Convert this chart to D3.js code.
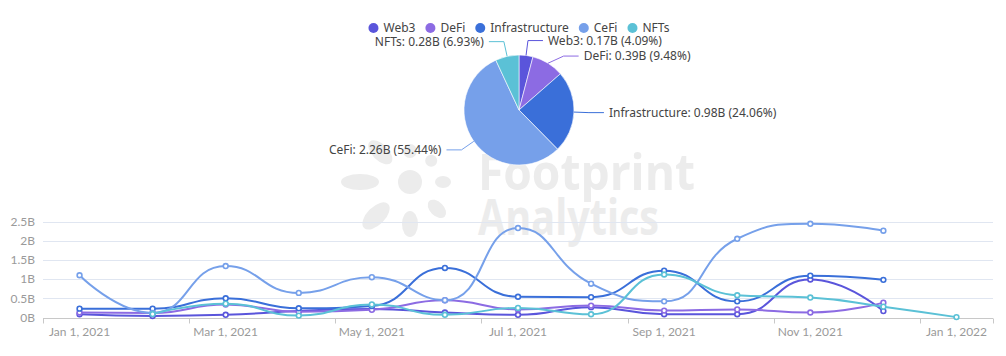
<!DOCTYPE html>
<html><head><meta charset="utf-8">
<script src="https://cdn.jsdelivr.net/npm/d3@7"></script>
<style>html,body{margin:0;padding:0;background:#fff;} svg{display:block}</style>
</head><body>
<svg id="chart" width="1006" height="356"></svg>
<script>
// ---------- data ----------
const months = ["2021-01-01","2021-02-01","2021-03-01","2021-04-01","2021-05-01","2021-06-01","2021-07-01",
                "2021-08-01","2021-09-01","2021-10-01","2021-11-01","2021-12-01","2022-01-01"];
const seriesNames = ["Web3","DeFi","Infrastructure","CeFi","NFTs"];
const web3           = [0.085,0.04,0.07,0.17,0.22,0.13,0.07,0.27,0.085,0.085,0.99,0.1667,null];
const defi           = [0.13,0.12,0.34,0.15,0.20,0.45,0.21,0.31,0.18,0.21,0.13,0.3865,null];
const infrastructure = [0.23,0.23,0.50,0.24,0.30,1.29,0.54,0.53,1.22,0.42,1.09,0.981,null];
const cefi           = [1.10,0.12,1.34,0.64,1.05,0.45,2.33,0.88,0.42,2.05,2.44,2.2603,null];
const nfts           = [null,0.09,0.36,0.05,0.34,0.07,0.25,0.085,1.12,0.58,0.52,0.2825,0.01];
const yTicks = [0,0.5,1,1.5,2,2.5];
const pieMonth = "2021-12-01";
const colors = ["#5a55db","#8c6be3","#3a6fd9","#76a0ea","#5bc1d6"];

const seriesValues = [web3, defi, infrastructure, cefi, nfts];

// ---------- setup ----------
const svg = d3.select("#chart");
const textFont = "'Noto Sans', 'DejaVu Sans', sans-serif";
const axisFont = "Lato, 'Noto Sans', sans-serif";

// ---------- watermark ----------
const wm = svg.append("g").attr("fill", "#ececec");
const logoC = [410, 182];
wm.append("circle").attr("cx", logoC[0]).attr("cy", logoC[1]).attr("r", 12);
const petals = [[180,50,19,8],[225,42,15,8],[270,31,7,7],[315,30,6,6],[0,33,8,6],[45,38,11,7],[90,42,13,8],[135,48,17,9]];
petals.forEach(([a,d,rx,ry]) => {
  const rad = a*Math.PI/180;
  wm.append("ellipse")
    .attr("transform", `translate(${logoC[0]+d*Math.cos(rad)},${logoC[1]+d*Math.sin(rad)}) rotate(${a})`)
    .attr("rx", rx).attr("ry", ry);
});
const wmText = wm.append("text").attr("font-family", "'Open Sans', 'Noto Sans', sans-serif")
  .attr("font-weight", 700).attr("font-size", 50);
wmText.append("tspan").attr("x", 478).attr("y", 190).attr("textLength", 217).attr("lengthAdjust", "spacingAndGlyphs").text("Footprint");
wmText.append("tspan").attr("x", 478).attr("y", 235).attr("textLength", 181).attr("lengthAdjust", "spacingAndGlyphs").text("Analytics");

// ---------- line chart ----------
const gLeft = 43, gRight = 993, gTop = 221.5, gBottom = 317.5;
const xScale = d3.scaleBand().domain(months).range([gLeft, gRight]).paddingInner(0).paddingOuter(0);
const xc = m => xScale(m) + xScale.bandwidth()/2;
const yScale = d3.scaleLinear().domain([0, 2.5]).range([gBottom, gTop]);

const grid = svg.append("g");
grid.selectAll("line").data(yTicks.filter(t => t > 0)).join("line")
  .attr("x1", gLeft).attr("x2", gRight)
  .attr("y1", d => Math.round(yScale(d)) + 0.5).attr("y2", d => Math.round(yScale(d)) + 0.5)
  .attr("stroke", "#e0e6f1").attr("stroke-width", 1);

svg.append("g").selectAll("text").data(yTicks).join("text")
  .attr("x", gLeft - 8).attr("y", d => yScale(d)).attr("dy", "0.35em")
  .attr("text-anchor", "end").attr("font-family", axisFont).attr("font-size", 12).attr("fill", "#9a9a9a")
  .text(d => d + "B");

const axisY = Math.round(yScale(0)) + 0.5;
svg.append("line").attr("x1", gLeft).attr("x2", gRight).attr("y1", axisY).attr("y2", axisY)
  .attr("stroke", "#c8c8c8").attr("stroke-width", 1);
const tickIdx = d3.range(0, months.length + 1).filter(i => i % 2 === 0 || i === months.length);
svg.append("g").selectAll("line").data(tickIdx).join("line")
  .attr("x1", i => Math.round(gLeft + i * xScale.step()) + 0.5).attr("x2", i => Math.round(gLeft + i * xScale.step()) + 0.5)
  .attr("y1", axisY).attr("y2", axisY + 5).attr("stroke", "#c8c8c8");
const fmtDate = d3.timeFormat("%b %-d, %Y");
const parseDate = d3.timeParse("%Y-%m-%d");
svg.append("g").selectAll("text").data(months.filter((m,i) => i % 2 === 0)).join("text")
  .attr("x", m => xc(m)).attr("y", axisY + 13).attr("dy", "0.35em")
  .attr("text-anchor", "middle").attr("font-family", axisFont).attr("font-size", 12).attr("fill", "#9a9a9a")
  .text(m => fmtDate(parseDate(m)));

// echarts-like smooth curve
function EchartsSmooth(context){ this._context = context; }
EchartsSmooth.prototype = {
  areaStart(){}, areaEnd(){},
  lineStart(){ this._pts = []; },
  point(px, py){ this._pts.push([+px, +py]); },
  lineEnd(){
    const p = this._pts, n = p.length, c = this._context, s = 0.5;
    if (!n) return;
    c.moveTo(p[0][0], p[0][1]);
    let cpx0 = p[0][0], cpy0 = p[0][1];
    for (let i = 1; i < n; i++){
      const X = p[i][0], Y = p[i][1], PX = p[i-1][0], PY = p[i-1][1];
      let cpx1 = X, cpy1 = Y, ncx = X, ncy = Y;
      if (i < n - 1){
        const NX = p[i+1][0], NY = p[i+1][1];
        let vx = NX - PX, vy = NY - PY;
        const l0 = Math.hypot(X - PX, Y - PY), l1 = Math.hypot(NX - X, NY - Y);
        if (l0 > 0 && l1 > 0){
          const ratio = l1 / (l0 + l1);
          ncx = X + vx * s * ratio; ncy = Y + vy * s * ratio;
          ncx = Math.max(Math.min(ncx, Math.max(NX, X)), Math.min(NX, X));
          ncy = Math.max(Math.min(ncy, Math.max(NY, Y)), Math.min(NY, Y));
          vx = ncx - X; vy = ncy - Y;
          cpx1 = X - vx * l0 / l1; cpy1 = Y - vy * l0 / l1;
          cpx1 = Math.max(Math.min(cpx1, Math.max(PX, X)), Math.min(PX, X));
          cpy1 = Math.max(Math.min(cpy1, Math.max(PY, Y)), Math.min(PY, Y));
          vx = X - cpx1; vy = Y - cpy1;
          ncx = X + vx * l1 / l0; ncy = Y + vy * l1 / l0;
        }
      }
      c.bezierCurveTo(cpx0, cpy0, cpx1, cpy1, X, Y);
      cpx0 = ncx; cpy0 = ncy;
    }
  }
};
const curveEcharts = ctx => new EchartsSmooth(ctx);

const lineGen = d3.line()
  .defined(d => d.v != null)
  .x(d => xc(d.m)).y(d => yScale(d.v))
  .curve(curveEcharts);

seriesNames.forEach((name, si) => {
  const pts = months.map((m, i) => ({m, v: seriesValues[si][i]}));
  const g = svg.append("g");
  g.append("path").attr("d", lineGen(pts)).attr("fill", "none")
    .attr("stroke", colors[si]).attr("stroke-width", 2).attr("stroke-linejoin", "round");
  g.selectAll("circle").data(pts.filter(d => d.v != null)).join("circle")
    .attr("cx", d => xc(d.m)).attr("cy", d => yScale(d.v)).attr("r", 2.4)
    .attr("fill", "#fff").attr("stroke", colors[si]).attr("stroke-width", 1.6);
});

// ---------- pie ----------
const pcx = 519, pcy = 110, R = 55;
const pIdx = months.indexOf(pieMonth);
const pieData = seriesNames.map((name, i) => ({name, value: seriesValues[i][pIdx], color: colors[i]}));
const total = d3.sum(pieData, d => d.value);
const arcs = d3.pie().sort(null).value(d => d.value)(pieData);
const arcGen = d3.arc().innerRadius(0).outerRadius(R);
const pg = svg.append("g").attr("transform", `translate(${pcx},${pcy})`);
pg.selectAll("path").data(arcs).join("path")
  .attr("d", arcGen).attr("fill", d => d.data.color).attr("stroke", "#fff").attr("stroke-width", 0.6);

// label layout (echarts-like)
const len1 = 15, len2 = 15, labelH = 15.5;
const labels = arcs.map(a => {
  const ang = (a.startAngle + a.endAngle) / 2;
  const dx = Math.sin(ang), dy = -Math.cos(ang);
  return {
    d: a, dir: dx >= 0 ? 1 : -1,
    p0: [pcx + R*dx, pcy + R*dy],
    knee: [pcx + (R+len1)*dx, pcy + (R+len1)*dy],
    y: pcy + (R+len1)*dy
  };
});
[1, -1].forEach(dir => {
  const side = labels.filter(l => l.dir === dir).sort((a,b) => a.y - b.y);
  for (let i = 1; i < side.length; i++){
    if (side[i].y < side[i-1].y + labelH){
      side[i].y = side[i-1].y + labelH;
      const ddy = side[i].y - pcy, RR = R + len1;
      side[i].knee = [pcx + dir * Math.sqrt(Math.max(0, RR*RR - ddy*ddy)), side[i].y];
    }
  }
});
const fmtV = d3.format(".2f");
const lg = svg.append("g");
labels.forEach(l => {
  const end = [l.knee[0] + l.dir*len2, l.y];
  lg.append("polyline")
    .attr("points", [l.p0, [l.knee[0], l.y], end].map(p => p.join(",")).join(" "))
    .attr("fill", "none").attr("stroke", l.d.data.color).attr("stroke-width", 1);
  lg.append("text").attr("x", end[0] + l.dir*5).attr("y", l.y).attr("dy", "0.35em")
    .attr("text-anchor", l.dir > 0 ? "start" : "end")
    .attr("font-family", textFont).attr("font-size", 12).attr("fill", "#444")
    .text(`${l.d.data.name}: ${fmtV(l.d.data.value)}B (${(l.d.data.value/total*100).toFixed(2)}%)`);
});

// ---------- legend ----------
const legend = svg.append("g");
const items = seriesNames.map((name, i) => {
  const g = legend.append("g");
  g.append("circle").attr("cx", 5).attr("cy", 0).attr("r", 5).attr("fill", colors[i]);
  const t = g.append("text").attr("x", 15).attr("y", 0).attr("dy", "0.35em")
    .attr("font-family", textFont).attr("font-size", 12).attr("fill", "#444").text(name);
  return {g, w: 15 + t.node().getComputedTextLength()};
});
const gap = 10;
const totalW = d3.sum(items, d => d.w) + gap * (items.length - 1);
let lx = pcx - totalW / 2;
items.forEach(it => { it.g.attr("transform", `translate(${lx},28)`); lx += it.w + gap; });
</script>
</body></html>
